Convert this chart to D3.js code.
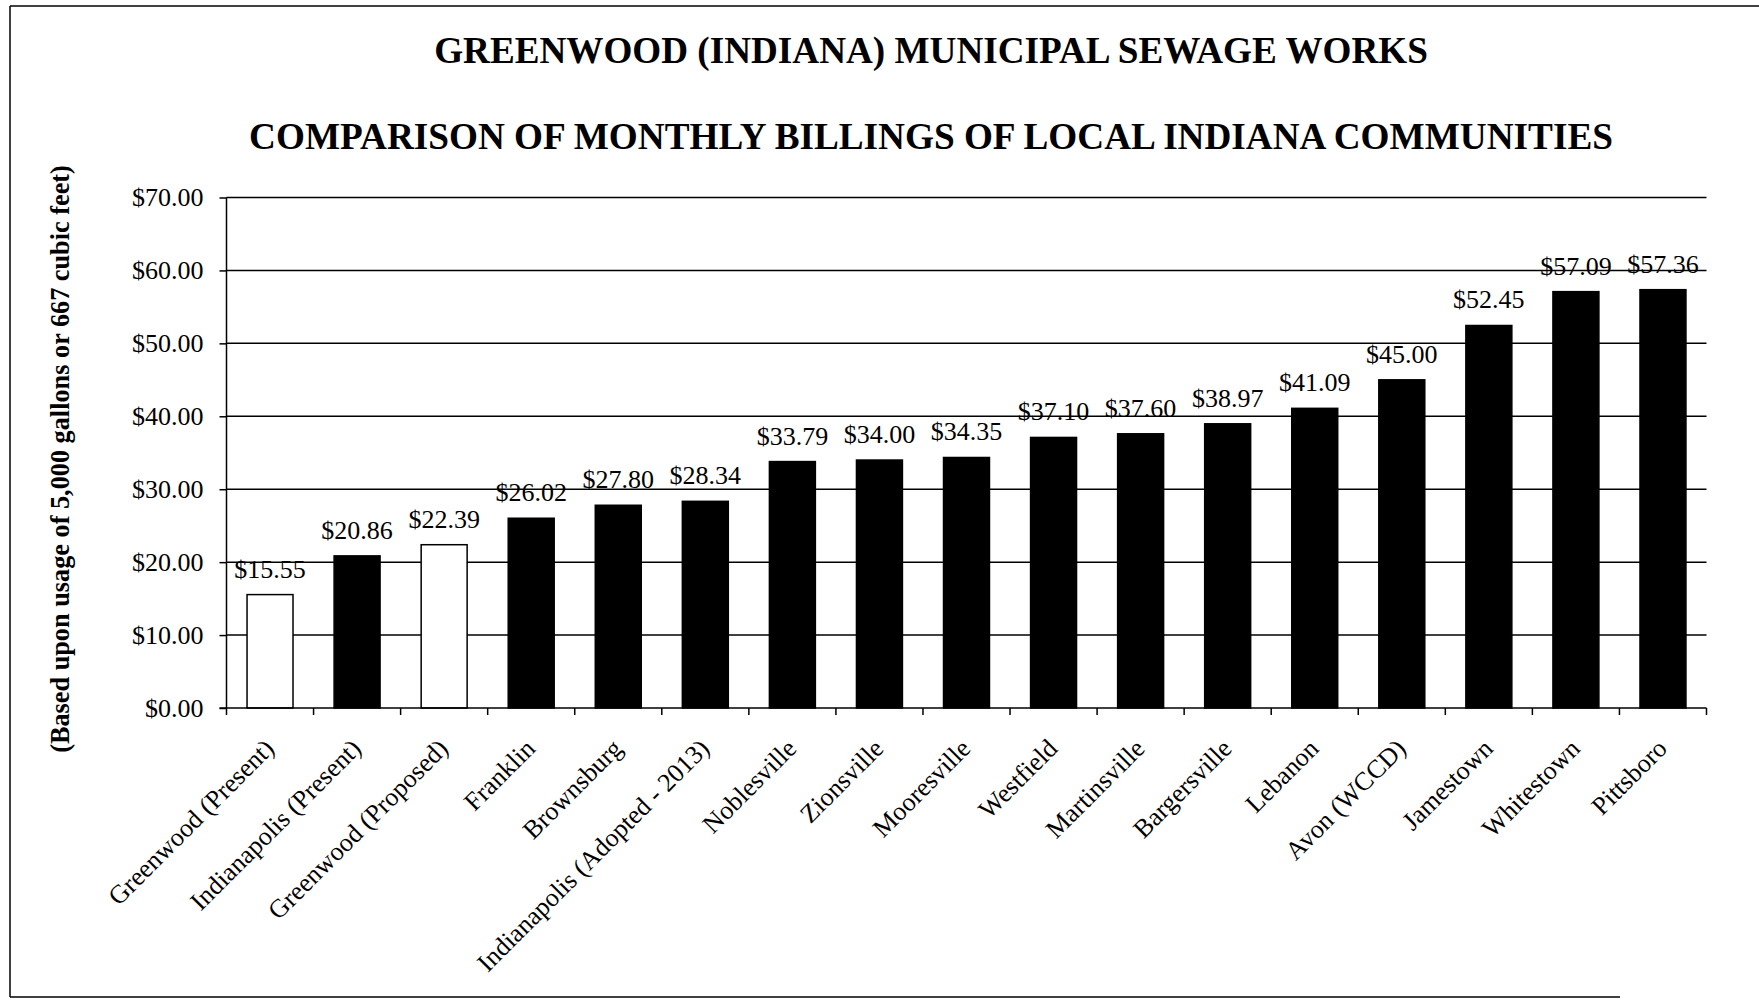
<!DOCTYPE html>
<html>
<head>
<meta charset="utf-8">
<script src="https://cdn.jsdelivr.net/npm/d3@7"></script>
<style>
  html, body { margin: 0; padding: 0; background: #fff; }
  svg { display: block; }
  text { font-family: "Liberation Serif", "Times New Roman", serif; fill: #000; }
</style>
</head>
<body>
<svg id="chart" width="1759" height="1000"></svg>
<script>
// ---- Data ----
const titleLines = [
  "GREENWOOD (INDIANA) MUNICIPAL SEWAGE WORKS",
  "COMPARISON OF MONTHLY BILLINGS OF LOCAL INDIANA COMMUNITIES"
];
const yAxisTitle = "(Based upon usage of 5,000 gallons or 667 cubic feet)";
const categories = [
  "Greenwood (Present)", "Indianapolis (Present)", "Greenwood (Proposed)", "Franklin",
  "Brownsburg", "Indianapolis (Adopted - 2013)", "Noblesville", "Zionsville",
  "Mooresville", "Westfield", "Martinsville", "Bargersville", "Lebanon",
  "Avon (WCCD)", "Jamestown", "Whitestown", "Pittsboro"
];
const values = [
  15.55, 20.86, 22.39, 26.02, 27.80, 28.34, 33.79, 34.00,
  34.35, 37.10, 37.60, 38.97, 41.09, 45.00, 52.45, 57.09, 57.36
];
const groups = [
  "Greenwood", "Other", "Greenwood", "Other", "Other", "Other", "Other", "Other",
  "Other", "Other", "Other", "Other", "Other", "Other", "Other", "Other", "Other"
];
const yTicks = [0, 10, 20, 30, 40, 50, 60, 70];

// ---- Layout ----
const svg = d3.select("#chart");
const plot = { left: 226.5, right: 1706.5, top: 197.5, bottom: 708 };
const fmt = d => "$" + d3.format(".2f")(d);

const x = d3.scaleBand()
  .domain(categories)
  .range([plot.left, plot.right])
  .paddingInner(0.472)
  .paddingOuter(0.236);

const y = d3.scaleLinear()
  .domain([0, 70])
  .range([plot.bottom, plot.top]);

const fillScale = d3.scaleOrdinal()
  .domain(["Greenwood", "Other"])
  .range(["#ffffff", "#000000"]);

function fitWidth(sel, target) {
  const node = sel.node();
  const base = parseFloat(sel.style("font-size"));
  const len = node.getComputedTextLength();
  sel.style("font-size", (base * target / len) + "px");
}

// Outer frame
svg.append("line").attr("x1", 10).attr("x2", 1759).attr("y1", 6).attr("y2", 6)
  .attr("stroke", "#000").attr("stroke-width", 1.5);
svg.append("line").attr("x1", 10).attr("x2", 10).attr("y1", 6).attr("y2", 997)
  .attr("stroke", "#000").attr("stroke-width", 1.5);
svg.append("line").attr("x1", 10).attr("x2", 1620).attr("y1", 997).attr("y2", 997)
  .attr("stroke", "#000").attr("stroke-width", 1.5);

// Titles
const t1 = svg.append("text").attr("x", 931).attr("y", 63)
  .attr("text-anchor", "middle").style("font-weight", "bold").style("font-size", "37px")
  .text(titleLines[0]);
fitWidth(t1, 994);
const t2 = svg.append("text").attr("x", 931).attr("y", 149)
  .attr("text-anchor", "middle").style("font-weight", "bold").style("font-size", "37px")
  .text(titleLines[1]);
fitWidth(t2, 1364);

// Y axis title
const yt = svg.append("text")
  .attr("transform", `translate(69,459) rotate(-90)`)
  .attr("text-anchor", "middle").style("font-weight", "bold").style("font-size", "24px")
  .text(yAxisTitle);
fitWidth(yt, 588);

// Gridlines
svg.append("g").selectAll("line").data(yTicks.filter(d => d > 0)).join("line")
  .attr("x1", plot.left).attr("x2", plot.right)
  .attr("y1", d => y(d)).attr("y2", d => y(d))
  .attr("stroke", "#000").attr("stroke-width", 1.5);

// Y axis
const yAxis = d3.axisLeft(y).tickValues(yTicks).tickFormat(fmt).tickSize(7).tickPadding(16);
const gy = svg.append("g").attr("transform", `translate(${plot.left},0)`).call(yAxis);
gy.select(".domain").attr("stroke", "#000").attr("stroke-width", 1.5)
  .attr("d", `M0,${plot.top}V${plot.bottom}`);
gy.selectAll(".tick line").attr("stroke", "#000").attr("stroke-width", 1.5);
gy.selectAll(".tick text").style("font-size", "26px")
  .style("font-family", "'Liberation Serif', 'Times New Roman', serif").attr("fill", "#000");

// Bars
svg.append("g").selectAll("rect").data(values).join("rect")
  .attr("x", (d, i) => x(categories[i]))
  .attr("width", x.bandwidth())
  .attr("y", d => y(d))
  .attr("height", d => y(0) - y(d))
  .attr("fill", (d, i) => fillScale(groups[i]))
  .attr("stroke", "#000").attr("stroke-width", 1.5);

// Value labels
svg.append("g").selectAll("text").data(values).join("text")
  .attr("x", (d, i) => x(categories[i]) + x.bandwidth() / 2)
  .attr("y", d => y(d) - 17)
  .attr("text-anchor", "middle")
  .style("font-size", "26px")
  .text(d => fmt(d));

// X axis baseline and tick marks at band boundaries
const gap = x.step() - x.bandwidth();
const boundaries = categories.map(c => x(c) - gap / 2).concat([plot.right]);
svg.append("line").attr("x1", plot.left - 7).attr("x2", plot.right)
  .attr("y1", y(0)).attr("y2", y(0)).attr("stroke", "#000").attr("stroke-width", 1.5);
svg.append("g").selectAll("line").data(boundaries).join("line")
  .attr("x1", d => d).attr("x2", d => d)
  .attr("y1", y(0)).attr("y2", y(0) + 7)
  .attr("stroke", "#000").attr("stroke-width", 1.5);

// X labels (rotated)
svg.append("g").selectAll("text").data(categories).join("text")
  .attr("transform", c => `translate(${x(c) + x.bandwidth() / 2 + 5.5},${y(0) + 42}) rotate(-45)`)
  .attr("text-anchor", "end")
  .style("font-size", "26px")
  .text(c => c);
</script>
</body>
</html>
